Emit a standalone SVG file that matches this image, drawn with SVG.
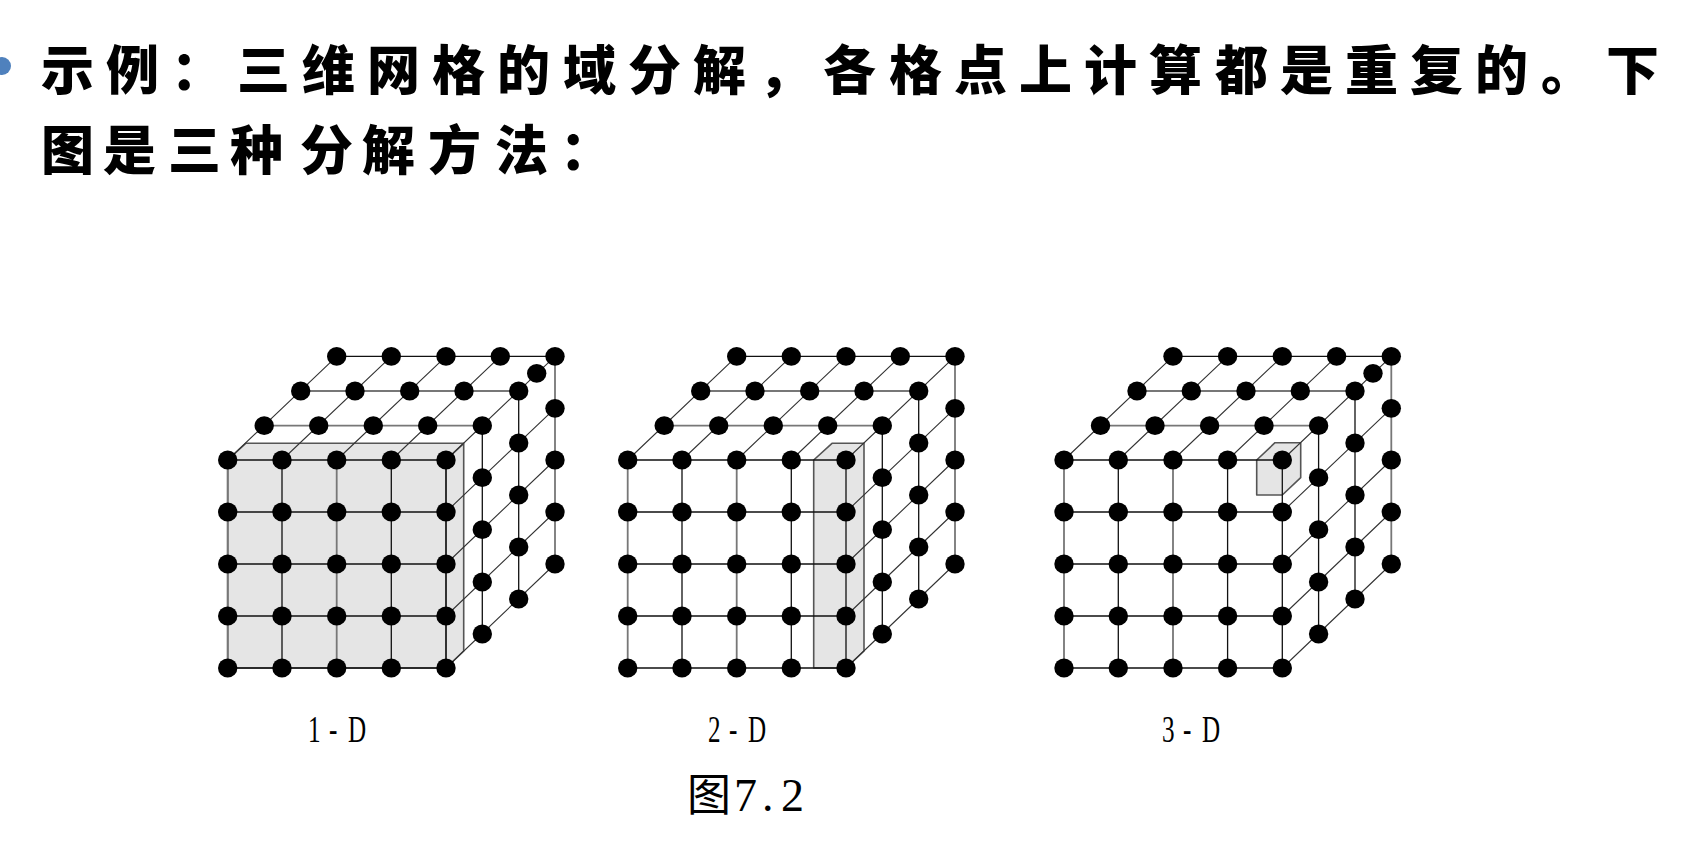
<svg xmlns="http://www.w3.org/2000/svg" width="1696" height="860" viewBox="0 0 1696 860">
<style>
.h{font-family:"Noto Sans CJK SC","Noto Sans",sans-serif;font-weight:900;font-size:53px;fill:#000}
.l{font-family:"Liberation Serif","Noto Sans CJK SC",serif;font-size:37px;fill:#000}
.c{font-family:"Noto Sans CJK SC",sans-serif;font-size:44px;fill:#000}
.n{font-family:"Liberation Serif",serif;font-size:46px;fill:#000}
.s{fill:#e5e5e5;stroke:#555;stroke-width:1.6;stroke-linejoin:round}
.a{stroke:#111;stroke-width:1.3;fill:none}
.g{stroke:#777;stroke-width:1.8;fill:none}
.d{stroke:#333;stroke-width:1.1;fill:none}
</style>
<defs>
<ellipse id="p" rx="9.7" ry="9.4" fill="#000"/>
<g id="lines">
<path class="a" d="M227.7 460H446M227.7 512H446M227.7 564H446M227.7 616H446M227.7 668H446M282 460V668M391.3 460V668M337 356.3H555"/>
<path class="g" d="M227.7 460V668M336.7 460V668M264.2 425.7H482.3M300.7 391H518.7M555 356.3V564"/>
<path class="a" d="M446 460V668M482.3 425.7V634M518.7 391V599"/>
<path class="d" d="M227.7 460L336.7 356.3M282 460L391.3 356.3M336.7 460L446 356.3M391.3 460L500.3 356.3M446 460L555 356.3M446 512L555 408.3M446 564L555 460M446 616L555 512M446 668L555 564"/>
</g>
<g id="dots">
<use href="#p" x="227.7" y="460"/><use href="#p" x="282" y="460"/><use href="#p" x="336.7" y="460"/><use href="#p" x="391.3" y="460"/><use href="#p" x="446" y="460"/>
<use href="#p" x="227.7" y="512"/><use href="#p" x="282" y="512"/><use href="#p" x="336.7" y="512"/><use href="#p" x="391.3" y="512"/><use href="#p" x="446" y="512"/>
<use href="#p" x="227.7" y="564"/><use href="#p" x="282" y="564"/><use href="#p" x="336.7" y="564"/><use href="#p" x="391.3" y="564"/><use href="#p" x="446" y="564"/>
<use href="#p" x="227.7" y="616"/><use href="#p" x="282" y="616"/><use href="#p" x="336.7" y="616"/><use href="#p" x="391.3" y="616"/><use href="#p" x="446" y="616"/>
<use href="#p" x="227.7" y="668"/><use href="#p" x="282" y="668"/><use href="#p" x="336.7" y="668"/><use href="#p" x="391.3" y="668"/><use href="#p" x="446" y="668"/>
<use href="#p" x="264.2" y="425.7"/><use href="#p" x="318.7" y="425.7"/><use href="#p" x="373.3" y="425.7"/><use href="#p" x="427.7" y="425.7"/><use href="#p" x="482.3" y="425.7"/>
<use href="#p" x="300.7" y="391"/><use href="#p" x="355" y="391"/><use href="#p" x="409.7" y="391"/><use href="#p" x="464" y="391"/><use href="#p" x="518.7" y="391"/>
<use href="#p" x="336.7" y="356.3"/><use href="#p" x="391.3" y="356.3"/><use href="#p" x="446" y="356.3"/><use href="#p" x="500.3" y="356.3"/><use href="#p" x="555" y="356.3"/>
<use href="#p" x="482.3" y="477.7"/><use href="#p" x="482.3" y="529.7"/><use href="#p" x="482.3" y="582"/><use href="#p" x="482.3" y="634"/>
<use href="#p" x="518.7" y="443"/><use href="#p" x="518.7" y="495"/><use href="#p" x="518.7" y="547"/><use href="#p" x="518.7" y="599"/>
<use href="#p" x="555" y="408.3"/><use href="#p" x="555" y="460"/><use href="#p" x="555" y="512"/><use href="#p" x="555" y="564"/>
</g>
</defs>
<g id="heading">
<circle cx="2" cy="66" r="9" fill="#4f81bd"/>
<text class="h" y="90" x="41 106 171 237 302 367 432 497 563 628 693 758 823 889 954 1019 1084 1149 1215 1280 1345 1410 1475 1541 1606">示例：三维网格的域分解，各格点上计算都是重复的。下</text>
<text class="h" y="170" x="41 103 168 230 300 362 428 495 560">图是三种分解方法：</text>
</g>
<g id="cube-1d">
<path class="s" d="M227.7 460L245.7 443.3H463.7V651L446 668H227.7Z"/>
<path class="s" d="M446 460L463.7 443.3M446 460V668" fill="none"/>
<use href="#lines"/><use href="#dots"/>
<use href="#p" x="536.7" y="373.3"/>
</g>
<g id="cube-2d">
<path class="s" d="M813.7 460L832 443.3H864V651L846 668H813.7Z"/>
<g transform="translate(400 0)"><use href="#lines"/><use href="#dots"/></g>
</g>
<g id="cube-3d">
<path class="s" d="M1256.7 460L1275 442.7H1300.7V477.7L1282.3 495H1256.7Z"/>
<g transform="translate(836.3 0)"><use href="#lines"/><use href="#dots"/><use href="#p" x="536.7" y="373.3"/></g>
</g>
<g id="labels">
<text class="l" transform="translate(308 742) scale(.68 1)" x="0 31 59">1-D</text>
<text class="l" transform="translate(708 742) scale(.68 1)" x="0 31 59">2-D</text>
<text class="l" transform="translate(1162 742) scale(.68 1)" x="0 31 59">3-D</text>
<text class="c" x="687" y="811">图</text>
<text class="n" y="811" x="734 762 781">7.2</text>
</g>
</svg>
